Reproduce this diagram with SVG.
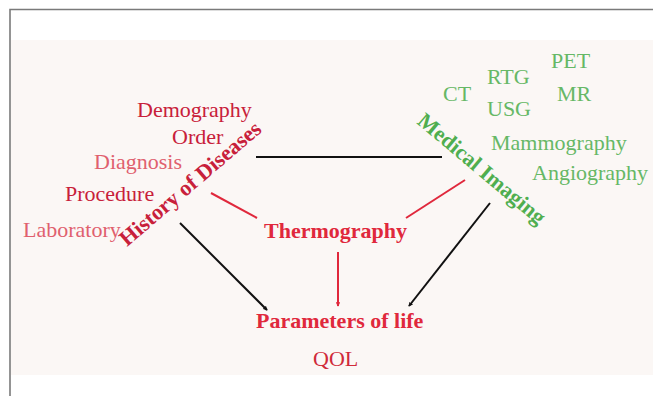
<svg xmlns="http://www.w3.org/2000/svg" width="653" height="396" viewBox="0 0 653 396">
<style>
text{font-family:"Liberation Serif","Times New Roman",serif;font-size:22px}
.b{font-weight:bold}
.dr{fill:#c8203a}
.lr{fill:#e0606e}
.br{fill:#e0283c}
.g{fill:#66b866}
.gb{fill:#4fae4f;font-weight:bold}
.k{stroke:#111;stroke-width:2;fill:none}
.r{stroke:#e0283c;stroke-width:2;fill:none}
</style>
<defs>
<marker id="ak" viewBox="0 0 6 6" refX="5" refY="3" markerWidth="2.2" markerHeight="2.2" orient="auto"><path d="M0,0L6,3L0,6z" fill="#111"/></marker>
<marker id="ar" viewBox="0 0 6 6" refX="5" refY="3" markerWidth="2.2" markerHeight="2.2" orient="auto"><path d="M0,0L6,3L0,6z" fill="#e0283c"/></marker>
</defs>
<rect x="0" y="0" width="653" height="396" fill="#fff"/>
<rect x="11" y="40" width="642" height="335" fill="#fbf7f5"/>
<path d="M10,396V9.5H653" fill="none" stroke="#7a7a7a" stroke-width="1.6"/>
<g id="connectors">
<line class="k" x1="256" y1="157" x2="442" y2="157"/>
<line class="r" x1="211" y1="193" x2="257" y2="218"/>
<line class="r" x1="465" y1="180" x2="406" y2="218"/>
<line class="k" x1="180" y1="223" x2="267" y2="310" marker-end="url(#ak)"/>
<line class="k" x1="490" y1="203" x2="409" y2="306" marker-end="url(#ak)"/>
<line class="r" x1="338" y1="252" x2="338" y2="306" marker-end="url(#ar)"/>
</g>
<g id="history">
<text class="b dr" transform="translate(127,247) rotate(-40.5)" font-size="23">History of Diseases</text>
<text class="dr" x="137" y="117" font-size="22.8">Demography</text>
<text class="dr" x="172" y="144" font-size="23">Order</text>
<text class="lr" x="94" y="169">Diagnosis</text>
<text class="dr" x="65" y="201" font-size="22.8">Procedure</text>
<text class="lr" x="23" y="237" font-size="22.8">Laboratory</text>
</g>
<g id="imaging">
<text class="gb" transform="translate(416,123) rotate(40)">Medical Imaging</text>
<text class="g" x="551" y="68" font-size="23">PET</text>
<text class="g" x="443" y="101">CT</text>
<text class="g" x="487" y="84">RTG</text>
<text class="g" x="557" y="101" font-size="23">MR</text>
<text class="g" x="487" y="116">USG</text>
<text class="g" x="491" y="150" font-size="22.7">Mammography</text>
<text class="g" x="532" y="180" font-size="22.3">Angiography</text>
</g>
<g id="thermography">
<text class="b br" x="264" y="238" font-size="22.6">Thermography</text>
</g>
<g id="parameters">
<text class="b br" x="256" y="328" font-size="23">Parameters of life</text>
<text x="313" y="366" font-size="22.5" fill="#d02a3a">QOL</text>
</g>
</svg>
